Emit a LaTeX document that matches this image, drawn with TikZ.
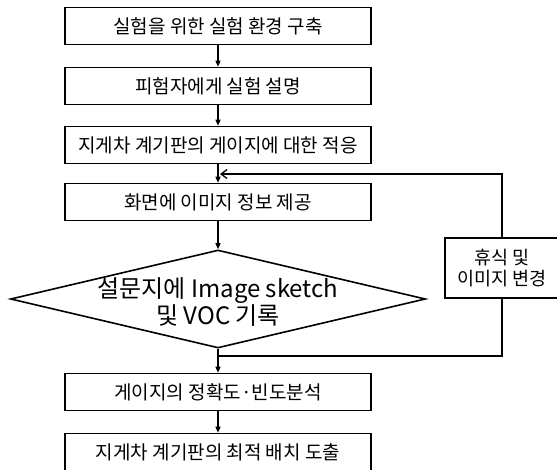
\documentclass[tikz,border=0pt]{standalone}
\usepackage{fontspec}
\setmainfont{Noto Sans CJK KR}
\usetikzlibrary{arrows.meta,shapes.geometric}

\begin{document}
\begin{tikzpicture}[x=1pt,y=-1pt,line width=1.3pt,
    >={Triangle[length=6pt,width=5pt]},
    box/.style={draw,line width=1.6pt,minimum width=306pt,minimum height=37pt,
      inner sep=0pt,font=\fontsize{19}{21}\selectfont},
    sidebox/.style={draw,line width=1.6pt,minimum width=114pt,minimum height=60pt,
      inner sep=0pt,align=center,font=\fontsize{18.5}{21}\selectfont},
    decision/.style={draw,diamond,line width=1.6pt,minimum width=415pt,
      minimum height=98pt,inner sep=0pt},
    barb/.style={-{Straight Barb[length=6pt,width=9pt]}}]
  \useasboundingbox (0,0) rectangle (557,469);
  % main flow
  \node[box] (b1) at (218,26) {실험을 위한 실험 환경 구축};
  \node[box] (b2) at (218,86) {피험자에게 실험 설명};
  \node[box] (b3) at (218,145) {지게차 계기판의 게이지에 대한 적응};
  \node[box] (b4) at (218,202) {화면에 이미지 정보 제공};
  \node[decision] (dia) at (218,299) {};
  \node[align=center,inner sep=0pt,font=\fontsize{24}{24}\selectfont] (diatext)
    at (218,302) {설문지에 Image sketch\\및 VOC 기록};
  \node[box] (b5) at (218,392) {게이지의 정확도·빈도분석};
  \node[box] (b6) at (218,452) {지게차 계기판의 최적 배치 도출};
  % loop
  \node[sidebox] (rest) at (502,268) {휴식 및\\이미지 변경};
  \coordinate (merge) at (218,356);
  \coordinate (back) at (220,174);
  \draw[->] (b1) -- (b2);
  \draw[->] (b2) -- (b3);
  \draw[->] (b3) -- (b4);
  \draw[->] (b4) -- (dia);
  \draw[->] (dia) -- (b5);
  \draw[->] (b5) -- (b6);
  \draw (merge) -| (rest.south);
  \draw[barb] (rest.north) |- (back);
\end{tikzpicture}
\end{document}
